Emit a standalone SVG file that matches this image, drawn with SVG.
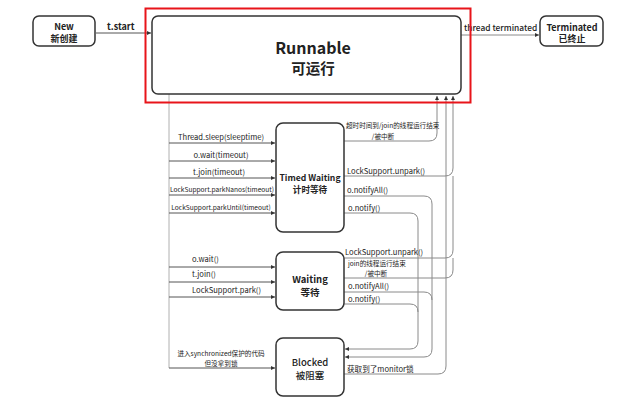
<svg xmlns="http://www.w3.org/2000/svg" width="631" height="402" viewBox="0 0 631 402">
<style>
  text { font-family: "Noto Sans CJK SC", "Noto Sans", sans-serif; fill: #222; }
  .node { fill: #fff; stroke: #333; stroke-width: 1.5; }
  .nt { font-size: 9px; font-weight: bold; text-anchor: middle; }
  .lbl { font-size: 7.6px; }
  .sm { font-size: 6.6px; }
  .c { text-anchor: middle; }
  .bus { fill: none; stroke: #b0b0b0; stroke-width: 1; }
  .br { fill: none; stroke: #555; stroke-width: 1; }
  .rc { fill: none; stroke: #8a8a8a; stroke-width: 1; }
</style>
<defs>
  <marker id="arr" viewBox="0 0 6 6" refX="6" refY="3" markerWidth="5" markerHeight="4" markerUnits="userSpaceOnUse" orient="auto">
    <path d="M0,0 L6,3 L0,6 z" fill="#333"/>
  </marker>
</defs>

<g id="connectors">
  <!-- top -->
  <path class="br" d="M96,33 H151" marker-end="url(#arr)"/>
  <text x="107" y="30" style="font-size:9px;font-weight:bold">t.start</text>
  <path class="rc" d="M461,35 H539" marker-end="url(#arr)"/>
  <text x="464" y="31" style="font-size:8.4px;font-weight:500">thread terminated</text>

  <!-- left bus -->
  <path class="bus" d="M169,94 V368"/>
  <path class="br" d="M169,143 H275" marker-end="url(#arr)"/>
  <path class="br" d="M169,161 H275" marker-end="url(#arr)"/>
  <path class="br" d="M169,178 H275" marker-end="url(#arr)"/>
  <path class="br" d="M169,195 H275" marker-end="url(#arr)"/>
  <path class="br" d="M169,213 H275" marker-end="url(#arr)"/>
  <path class="br" d="M169,267 H275" marker-end="url(#arr)"/>
  <path class="br" d="M169,282 H275" marker-end="url(#arr)"/>
  <path class="br" d="M169,297 H275" marker-end="url(#arr)"/>
  <path class="br" d="M169,368 H275" marker-end="url(#arr)"/>

  <text class="lbl c" x="221" y="140">Thread.sleep(sleeptime)</text>
  <text class="lbl c" x="221" y="158">o.wait(timeout)</text>
  <text class="lbl c" x="219" y="175">t.join(timeout)</text>
  <text class="sm c" x="222" y="192">LockSupport.parkNanos(timeout)</text>
  <text class="sm c" x="221" y="210">LockSupport.parkUntil(timeout)</text>
  <text class="lbl" x="192" y="262">o.wait()</text>
  <text class="lbl" x="192" y="277">t.join()</text>
  <text class="lbl" x="192" y="293">LockSupport.park()</text>
  <text class="sm c" x="221" y="356">进入synchronized保护的代码</text>
  <text class="sm c" x="221" y="365.5">但没拿到锁</text>

  <!-- right side -->
  <path class="rc" d="M344,141 H429 Q437,141 437,133 V96" marker-end="url(#arr)"/>
  <path class="rc" d="M344,176 H445 Q453,176 453,168 V96" marker-end="url(#arr)"/>
  <path class="rc" d="M344,258 H445 Q453,258 453,250 V176"/>
  <path class="rc" d="M344,278 H445 Q453,278 453,270 V258"/>
  <path class="rc" d="M344,374 H438 Q446,374 446,366 V96" marker-end="url(#arr)"/>
  <path class="rc" d="M344,196 H424 Q432,196 432,204 V349 Q432,357 424,357 H345" marker-end="url(#arr)"/>
  <path class="rc" d="M344,213 H410 Q418,213 418,221 V341 Q418,349 410,349 H345" marker-end="url(#arr)"/>
  <path class="rc" d="M344,292 H424 Q432,292 432,300"/>
  <path class="rc" d="M344,304 H410 Q418,304 418,312"/>

  <text class="sm" x="346" y="128">超时时间到/join的线程运行结束</text>
  <text class="sm c" x="383" y="138.5">/被中断</text>
  <text class="lbl" x="347" y="174">LockSupport.unpark()</text>
  <text class="lbl" x="347" y="193">o.notifyAll()</text>
  <text class="lbl" x="348" y="211">o.notify()</text>
  <text class="lbl" x="345" y="255">LockSupport.unpark()</text>
  <text class="sm" x="348" y="266">join的线程运行结束</text>
  <text class="sm c" x="376" y="275.5">/被中断</text>
  <text class="lbl" x="348" y="289">o.notifyAll()</text>
  <text class="lbl" x="348" y="302">o.notify()</text>
  <text class="lbl" x="347" y="372">获取到了monitor锁</text>
</g>

<g id="new">
  <rect class="node" x="33" y="16" width="62" height="30" rx="6"/>
  <text class="nt" x="64" y="30">New</text>
  <text class="nt" x="64" y="41.5">新创建</text>
</g>

<g id="runnable">
  <rect x="145.5" y="8.5" width="325" height="94" fill="none" stroke="#e8141a" stroke-width="2"/>
  <rect class="node" x="152" y="16" width="309" height="78" rx="6"/>
  <text x="313" y="54" style="font-size:16px;font-weight:bold;text-anchor:middle">Runnable</text>
  <text x="313" y="74" style="font-size:14.5px;font-weight:bold;text-anchor:middle">可运行</text>
</g>

<g id="terminated">
  <rect class="node" x="540" y="16" width="63" height="30" rx="6"/>
  <text class="nt" x="572" y="30.5" style="font-weight:600">Terminated</text>
  <text class="nt" x="572" y="42" style="font-weight:600">已终止</text>
</g>

<g id="timed-waiting">
  <rect class="node" x="276" y="123" width="68" height="109" rx="7"/>
  <text class="nt" x="310" y="181" style="font-size:8.6px">Timed Waiting</text>
  <text class="nt" x="310" y="193" style="font-size:8.6px">计时等待</text>
</g>

<g id="waiting">
  <rect class="node" x="276" y="252" width="68" height="58" rx="7"/>
  <text class="nt" x="310" y="283" style="font-size:9.5px">Waiting</text>
  <text class="nt" x="310" y="295.5" style="font-size:9.5px">等待</text>
</g>

<g id="blocked">
  <rect class="node" x="276" y="338" width="68" height="58" rx="7"/>
  <text class="nt" x="310" y="366" style="font-size:9.5px;font-weight:500">Blocked</text>
  <text class="nt" x="310" y="379" style="font-size:9.5px;font-weight:500">被阻塞</text>
</g>
</svg>
